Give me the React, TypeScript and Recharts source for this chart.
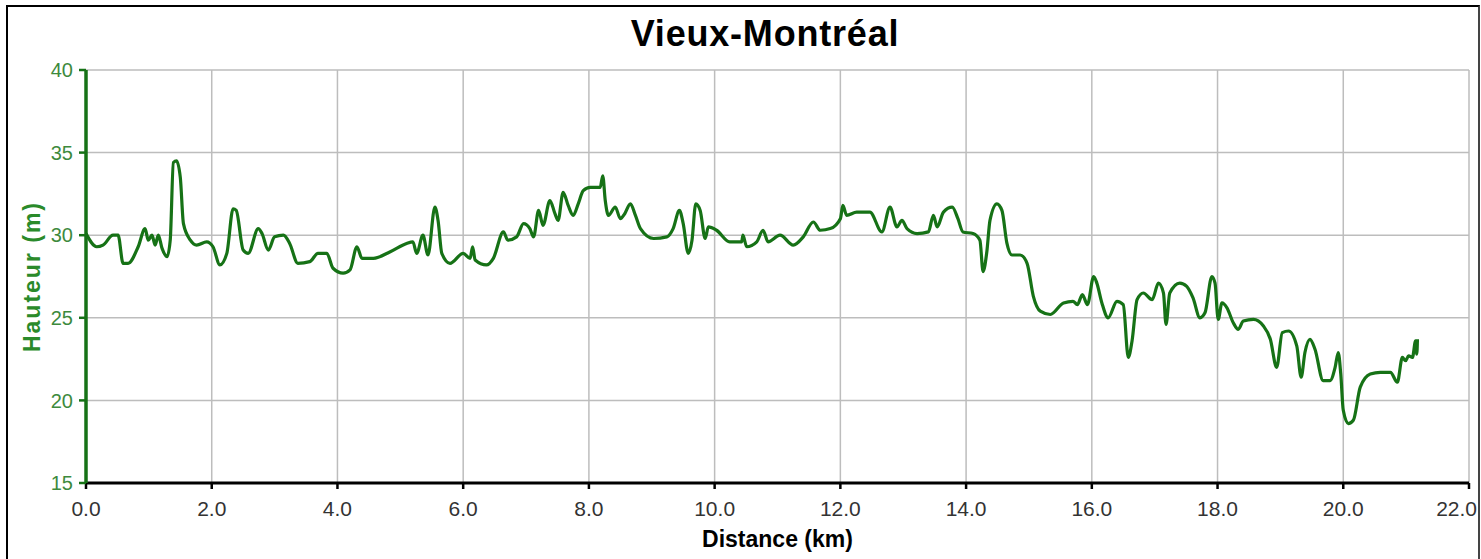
import React from 'react';
import { LineChart, Line, XAxis, YAxis, CartesianGrid, Label } from 'recharts';

// elevation profile
const distKm = [
  0.0, 0.17, 0.27, 0.43, 0.51, 0.59, 0.67, 0.83, 0.94, 0.99, 1.05, 1.1, 1.15, 1.21, 1.29, 1.34, 1.39, 1.44, 1.5, 1.55,
  1.66, 1.76, 1.92, 2.02, 2.13, 2.24, 2.34, 2.39, 2.5, 2.58, 2.74, 2.8, 2.9, 3.0, 3.14, 3.24, 3.37, 3.56, 3.69, 3.83,
  3.93, 4.09, 4.2, 4.31, 4.39, 4.57, 4.84, 5.1, 5.2, 5.26, 5.36, 5.44, 5.55, 5.6, 5.66, 5.79, 6.0, 6.11, 6.15, 6.19,
  6.37, 6.48, 6.64, 6.71, 6.85, 6.96, 7.06, 7.12, 7.2, 7.27, 7.38, 7.46, 7.51, 7.59, 7.67, 7.75, 7.83, 7.91, 8.02, 8.18,
  8.22, 8.26, 8.31, 8.42, 8.5, 8.57, 8.66, 8.74, 8.82, 9.03, 9.24, 9.34, 9.44, 9.5, 9.58, 9.64, 9.7, 9.77, 9.85, 9.9,
  10.03, 10.24, 10.43, 10.45, 10.51, 10.67, 10.77, 10.85, 11.04, 11.25, 11.41, 11.57, 11.68, 11.84, 12.0, 12.04, 12.1, 12.26, 12.47, 12.66,
  12.79, 12.9, 12.98, 13.06, 13.22, 13.4, 13.48, 13.54, 13.64, 13.78, 13.87, 13.95, 14.11, 14.22, 14.27, 14.33, 14.38, 14.49, 14.57, 14.65,
  14.73, 14.86, 14.97, 15.07, 15.18, 15.34, 15.55, 15.7, 15.77, 15.85, 15.93, 16.03, 16.08, 16.16, 16.26, 16.4, 16.5, 16.58, 16.64, 16.72,
  16.82, 16.96, 17.06, 17.14, 17.18, 17.24, 17.4, 17.51, 17.61, 17.72, 17.8, 17.91, 17.96, 18.01, 18.07, 18.15, 18.25, 18.33, 18.41, 18.57,
  18.73, 18.84, 18.94, 19.03, 19.13, 19.26, 19.33, 19.39, 19.47, 19.55, 19.68, 19.79, 19.87, 19.92, 19.96, 20.0, 20.08, 20.16, 20.27, 20.43,
  20.59, 20.75, 20.86, 20.94, 20.99, 21.04, 21.1, 21.15, 21.17, 21.18,
];

const heightM = [
  30.1, 29.3, 29.4, 30.0, 30.0, 28.3, 28.3, 29.3, 30.4, 29.7, 30.0, 29.4, 30.0, 29.2, 28.7, 29.7, 34.4, 34.5, 33.5, 30.7,
  29.7, 29.4, 29.6, 29.3, 28.2, 28.9, 31.6, 31.5, 29.1, 28.9, 30.4, 30.1, 29.1, 29.9, 30.0, 29.5, 28.3, 28.4, 28.9, 28.9,
  28.0, 27.7, 27.9, 29.3, 28.6, 28.6, 29.0, 29.5, 29.6, 28.9, 30.0, 28.8, 31.7, 30.9, 28.9, 28.3, 28.9, 28.6, 29.3, 28.5,
  28.2, 28.6, 30.2, 29.7, 29.9, 30.7, 30.4, 29.9, 31.5, 30.6, 32.1, 31.3, 30.9, 32.6, 31.8, 31.2, 31.9, 32.7, 32.9, 32.9,
  33.6, 32.1, 31.2, 31.7, 31.0, 31.3, 31.9, 31.2, 30.4, 29.8, 29.9, 30.4, 31.5, 30.7, 28.9, 29.7, 31.9, 31.5, 29.8, 30.5,
  30.3, 29.6, 29.6, 30.0, 29.3, 29.6, 30.3, 29.6, 30.0, 29.4, 29.9, 30.8, 30.3, 30.4, 31.0, 31.8, 31.2, 31.4, 31.4, 30.2,
  31.7, 30.5, 30.9, 30.4, 30.1, 30.2, 31.2, 30.5, 31.4, 31.7, 31.0, 30.2, 30.1, 29.7, 27.8, 29.0, 30.9, 31.9, 31.5, 29.5,
  28.8, 28.8, 28.3, 26.3, 25.4, 25.2, 25.9, 26.0, 25.8, 26.4, 25.8, 27.5, 27.1, 25.9, 25.0, 26.0, 25.8, 22.6, 23.6, 26.1,
  26.5, 26.1, 27.1, 26.5, 24.6, 26.5, 27.1, 26.9, 26.2, 25.0, 25.3, 27.5, 27.1, 24.9, 25.9, 25.6, 24.7, 24.3, 24.8, 24.9,
  24.5, 23.7, 22.0, 24.1, 24.2, 23.3, 21.4, 22.9, 23.7, 23.1, 21.2, 21.2, 22.0, 22.9, 21.6, 19.4, 18.6, 18.8, 20.8, 21.6,
  21.7, 21.7, 21.1, 22.6, 22.4, 22.7, 22.6, 23.6, 22.8, 23.7,
];

const xTicks = [0, 2, 4, 6, 8, 10, 12, 14, 16, 18, 20, 22];
const yTicks = [15, 20, 25, 30, 35, 40];

const chartData = distKm.map((d, i) => ({ d, h: heightM[i] }));

const FONT = '"Liberation Sans", Arial, sans-serif';
const GREEN = '#167216';

const XTick = (props: any) => {
  const { x, y, payload } = props;
  const last = payload.value === 22;
  return (
    <text
      x={last ? x + 8 : x}
      y={y}
      dy="0.71em"
      textAnchor={last ? 'end' : 'middle'}
      fill="#333"
      fontSize={21}
      fontFamily={FONT}
    >
      {Number(payload.value).toFixed(1)}
    </text>
  );
};

const YLabel = (props: any) => {
  const { viewBox } = props;
  const cx = viewBox.x + 32;
  const cy = viewBox.y + viewBox.height / 2;
  return (
    <text
      x={cx}
      y={cy}
      transform={`rotate(-90 ${cx} ${cy})`}
      textAnchor="middle"
      dominantBaseline="central"
      fill="#2a8a2a"
      fontSize={23}
      fontWeight="bold"
      letterSpacing={2}
      fontFamily={FONT}
    >
      Hauteur (m)
    </text>
  );
};

export default function App() {
  return (
    <div style={{ position: 'fixed', left: 0, top: 0, width: 1481, height: 559, background: '#fff' }}>
      <LineChart width={1481} height={559} data={chartData} margin={{ top: 70, right: 12, bottom: 0, left: 0 }}>
        <CartesianGrid stroke="#bdbdbd" strokeWidth={1.5} />
        <XAxis
          dataKey="d"
          type="number"
          domain={[0, 22]}
          ticks={xTicks}
          height={76}
          axisLine={{ stroke: '#000', strokeWidth: 3 }}
          tickLine={{ stroke: '#000', strokeWidth: 2.5 }}
          tickSize={6}
          tickMargin={12}
          tick={<XTick />}
          interval={0}
        >
          <Label
            value="Distance (km)"
            position="insideBottom"
            offset={12}
            fill="#000"
            fontSize={23}
            fontWeight="bold"
            fontFamily={FONT}
          />
        </XAxis>
        <YAxis
          type="number"
          domain={[15, 40]}
          ticks={yTicks}
          width={86}
          axisLine={{ stroke: GREEN, strokeWidth: 3.5 }}
          tickLine={{ stroke: GREEN, strokeWidth: 2.5 }}
          tickSize={7}
          tickMargin={6}
          tick={{ fill: '#3d8a3d', fontSize: 20, fontFamily: FONT }}
          interval={0}
        >
          <Label content={<YLabel />} />
        </YAxis>
        <Line
          dataKey="h"
          type="monotone"
          stroke={GREEN}
          strokeWidth={3.2}
          dot={false}
          isAnimationActive={false}
        />
      </LineChart>
      <div
        style={{
          position: 'absolute',
          left: 465,
          top: 15.5,
          width: 600,
          textAlign: 'center',
          fontFamily: FONT,
          fontWeight: 'bold',
          fontSize: 36,
          lineHeight: '36px',
          letterSpacing: 0.8,
          color: '#000',
          pointerEvents: 'none',
        }}
      >
        Vieux-Montréal
      </div>
      <div
        style={{
          position: 'absolute',
          left: 6,
          top: 5,
          width: 1470,
          height: 552,
          borderTop: '2px solid #000',
          borderLeft: '2px solid #000',
          borderRight: '2px solid #444',
          borderBottom: '1px solid #ddd',
          pointerEvents: 'none',
        }}
      />
    </div>
  );
}
